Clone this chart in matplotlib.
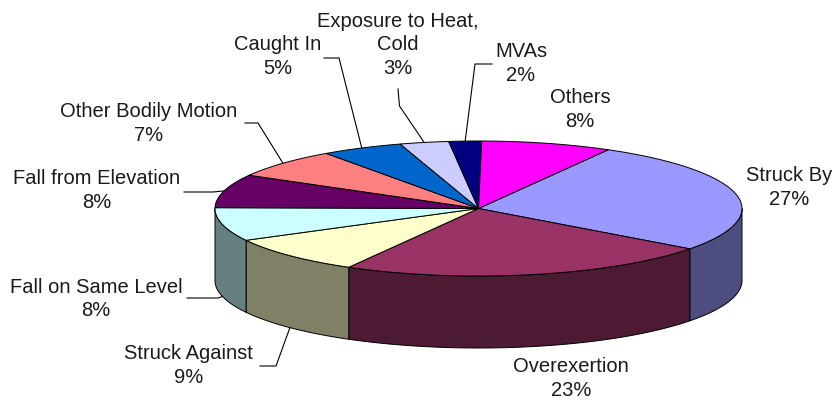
import numpy as np
import matplotlib.pyplot as plt
from matplotlib.patches import Polygon
from matplotlib.colors import to_rgb

# data
labels = ['Struck By', 'Overexertion', 'Struck Against', 'Fall on Same Level',
          'Fall from Elevation', 'Other Bodily Motion', 'Caught In',
          'Exposure to Heat,\nCold', 'MVAs', 'Others']
pcts = [27, 23, 9, 8, 8, 7, 5, 3, 2, 8]
colors = ['#9999FF', '#993366', '#FFFFCC', '#CCFFFF', '#660066',
          '#FF8080', '#0066CC', '#CCCCFF', '#000080', '#FF00FF']

# layout (pixels, y down)
cx, cy, rx, ry, depth = 478.5, 209.5, 263.5, 67.5, 72
start_angle = 60.5
label_pos = [(789, 187.5), (571, 378.5), (188.5, 365.5), (96, 299), (97, 190.5),
             (149, 123.5), (277.5, 56.5), (397.5, 45), (521, 63.5), (580, 109.5)]
leaders = {2: [(260, 367), (276, 367)],
           3: [(187, 299), (218, 299)],
           4: [(184, 193), (213, 193)],
           5: [(245, 124), (258, 124)],
           6: [(324, 59), (339, 59)],
           7: [(398, 90), (399.5, 107)],
           8: [(492, 65), (475, 65)]}


def rim(phi, drop=0.0):
    phi = np.radians(phi)
    return cx + rx * np.cos(phi), cy - ry * np.sin(phi) + drop


fig = plt.figure(figsize=(8.35, 4.02), dpi=100)
ax = fig.add_axes([0, 0, 1, 1])
ax.set_xlim(0, 835)
ax.set_ylim(402, 0)
ax.axis('off')

edges = start_angle - np.concatenate([[0], np.cumsum(pcts)]) * 3.6

for i, col in enumerate(colors):
    a0, a1 = edges[i], edges[i + 1]
    # side wall on the front half
    hi, lo = min(a0, 0), max(a1, -180)
    if hi > lo:
        t = np.linspace(hi, lo, 80)
        xt, yt = rim(t)
        xb, yb = rim(t[::-1], depth)
        pts = np.column_stack([np.concatenate([xt, xb]), np.concatenate([yt, yb])])
        wall = tuple(c * 0.5 for c in to_rgb(col))
        ax.add_patch(Polygon(pts, closed=True, facecolor=wall, edgecolor='black',
                             lw=0.7, zorder=1))
    # top face
    t = np.linspace(a0, a1, 100)
    xt, yt = rim(t)
    pts = np.column_stack([np.concatenate([[cx], xt]), np.concatenate([[cy], yt])])
    ax.add_patch(Polygon(pts, closed=True, facecolor=col, edgecolor='black',
                         lw=0.7, zorder=2))

for i, name in enumerate(labels):
    x, y = label_pos[i]
    ax.text(x, y, f'{name}\n{pcts[i]}%', ha='center', va='center',
            fontsize=14.5, family='Liberation Sans', linespacing=1.33, color='#1a1a1a')
    if i in leaders:
        mid = (edges[i] + edges[i + 1]) / 2
        drop = depth if np.sin(np.radians(mid)) < 0 else 0
        ax_, ay_ = rim(mid, drop)
        pts = leaders[i] + [(ax_, ay_)]
        ax.plot([p[0] for p in pts], [p[1] for p in pts], color='black', lw=0.8, zorder=3)

fig.savefig('out.png', dpi=100)
